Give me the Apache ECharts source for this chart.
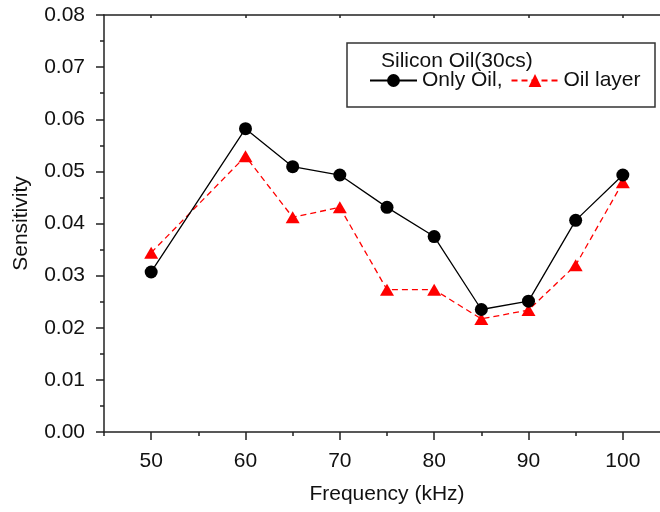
<!DOCTYPE html>
<html>
<head>
<meta charset="utf-8">
<script src="https://cdn.jsdelivr.net/npm/echarts@6/dist/echarts.min.js"></script>
<style>
  html, body { margin: 0; padding: 0; background: #fff; overflow: hidden; }
  #chart { width: 670px; height: 512px; }
</style>
</head>
<body>
<div id="chart"></div>
<script>
// Frequency sweep (kHz) and measured sensitivity
const frequencies = [50, 60, 65, 70, 75, 80, 85, 90, 95, 100];
const onlyOil = [0.0307, 0.0582, 0.0509, 0.0493, 0.0431, 0.0375, 0.0235, 0.0251, 0.0406, 0.0493];
const oilLayer = [0.0344, 0.0529, 0.0412, 0.0431, 0.0273, 0.0273, 0.0217, 0.0234, 0.0320, 0.0479];
const xMajorTicks = [50, 60, 70, 80, 90, 100];
const xMinorTicks = [45, 55, 65, 75, 85, 95, 105];
const legendTitle = 'Silicon Oil(30cs)';
const seriesNames = ['Only Oil,', 'Oil layer'];

const FONT = "'Liberation Sans', Arial, sans-serif";
const FS = 21;
const AXIS_COLOR = '#222';

const pairs = (xs, ys) => xs.map((x, i) => [x, ys[i]]);

const chart = echarts.init(document.getElementById('chart'), null, { renderer: 'canvas' });

chart.setOption({
  animation: false,
  backgroundColor: '#fff',
  // the frame runs on past the right edge of the 660px view
  grid: { left: 104, top: 15, right: 0, bottom: 80, containLabel: false },
  xAxis: [
    {
      type: 'value', min: 45, max: 105, interval: 5,
      position: 'bottom',
      name: 'Frequency (kHz)', nameLocation: 'middle', nameGap: 52,
      nameTextStyle: { fontFamily: FONT, fontSize: FS, color: '#111' },
      axisLine: { show: true, lineStyle: { color: AXIS_COLOR, width: 1.5 } },
      axisTick: { show: true, inside: false, length: 8, customValues: xMajorTicks,
                  lineStyle: { color: AXIS_COLOR, width: 1.5 } },
      axisLabel: { show: true, margin: 19, customValues: xMajorTicks,
                   fontFamily: FONT, fontSize: FS, color: '#111' },
      splitLine: { show: false }
    },
    {
      type: 'value', min: 45, max: 105, interval: 5,
      position: 'bottom',
      axisLine: { show: false },
      axisTick: { show: true, inside: false, length: 4, customValues: xMinorTicks,
                  lineStyle: { color: AXIS_COLOR, width: 1.5 } },
      axisLabel: { show: false },
      splitLine: { show: false }
    },
    {
      type: 'value', min: 45, max: 105, interval: 5,
      position: 'top',
      axisLine: { show: true, lineStyle: { color: AXIS_COLOR, width: 1.5 } },
      axisTick: { show: true, inside: true, length: 3, customValues: xMajorTicks,
                  lineStyle: { color: AXIS_COLOR, width: 1.5 } },
      axisLabel: { show: false },
      splitLine: { show: false }
    }
  ],
  yAxis: {
    type: 'value', min: 0, max: 0.08, interval: 0.01,
    name: 'Sensitivity', nameLocation: 'middle', nameGap: 72,
    nameTextStyle: { fontFamily: FONT, fontSize: FS, color: '#111' },
    axisLine: { show: true, lineStyle: { color: AXIS_COLOR, width: 1.5 } },
    axisTick: { show: true, inside: false, length: 8, lineStyle: { color: AXIS_COLOR, width: 1.5 } },
    minorTick: { show: true, splitNumber: 2, length: 4, lineStyle: { color: AXIS_COLOR, width: 1.5 } },
    axisLabel: { margin: 19, fontFamily: FONT, fontSize: FS, color: '#111',
                 formatter: v => v.toFixed(2) },
    splitLine: { show: false }
  },
  legend: {
    data: seriesNames,
    orient: 'horizontal',
    left: 369, top: 70,
    padding: 0,
    itemWidth: 47, itemHeight: 16, itemGap: 8,
    textStyle: { fontFamily: FONT, fontSize: FS, color: '#111' }
  },
  graphic: [
    {
      type: 'rect', z: 10,
      shape: { x: 347, y: 43, width: 308, height: 64 },
      style: { fill: 'rgba(255,255,255,0)', stroke: '#333', lineWidth: 1.5 }
    },
    {
      type: 'text', z: 11, left: 381, top: 51,
      style: { text: legendTitle, font: FS + 'px ' + FONT, fill: '#111' }
    }
  ],
  series: [
    {
      name: seriesNames[1], type: 'line', xAxisIndex: 0,
      data: pairs(frequencies, oilLayer),
      symbol: 'triangle', symbolSize: [14, 12],
      itemStyle: { color: '#ff0000' },
      lineStyle: { color: '#ff0000', width: 1.3, type: [6, 4] },
      z: 3
    },
    {
      name: seriesNames[0], type: 'line', xAxisIndex: 0,
      data: pairs(frequencies, onlyOil),
      symbol: 'circle', symbolSize: 13,
      itemStyle: { color: '#000' },
      lineStyle: { color: '#000', width: 1.3 },
      z: 4
    }
  ]
});
</script>
</body>
</html>
